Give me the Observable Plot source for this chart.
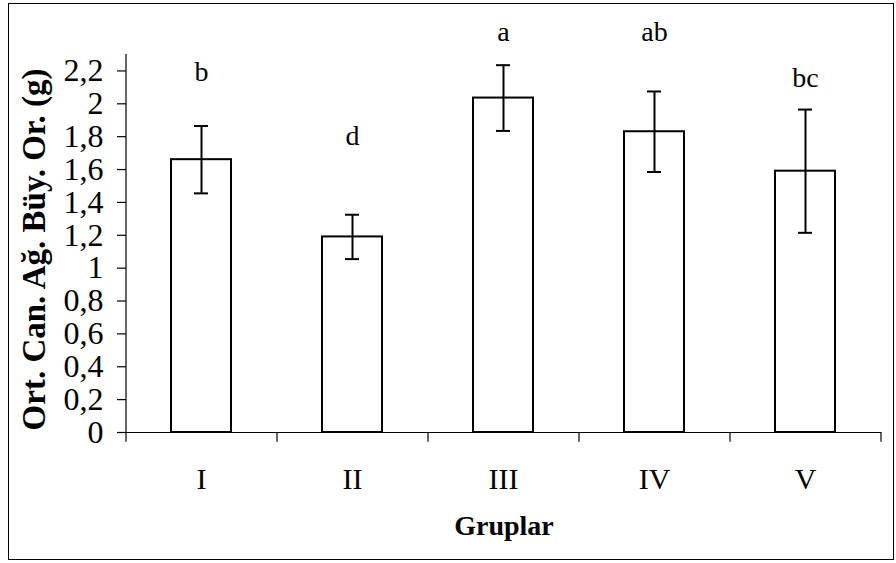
<!DOCTYPE html>
<html>
<head>
<meta charset="utf-8">
<script src="https://cdn.jsdelivr.net/npm/d3@7"></script>
<script src="https://cdn.jsdelivr.net/npm/@observablehq/plot@0.6"></script>
<style>
  html, body { margin: 0; padding: 0; background: #fff; }
  #wrap { position: relative; width: 896px; height: 563px; }
  #border { position: absolute; left: 8px; top: 3px; width: 884px; height: 555px; border: 1.5px solid #000; box-sizing: content-box; }
  #chart { position: absolute; left: 0; top: 0; }
</style>
</head>
<body>
<div id="wrap"><div id="border"></div><div id="chart"></div></div>
<script>
const groups = ["I", "II", "III", "IV", "V"];
const means = [1.66, 1.19, 2.035, 1.83, 1.59];
const errors = [0.205, 0.135, 0.20, 0.245, 0.375];
const letters = ["b", "d", "a", "ab", "bc"];
const letterY = [2.14, 1.75, 2.38, 2.38, 2.10];
const yTicks = [0, 0.2, 0.4, 0.6, 0.8, 1, 1.2, 1.4, 1.6, 1.8, 2, 2.2];

const data = groups.map((g, i) => ({group: g, mean: means[i], err: errors[i], letter: letters[i], ly: letterY[i]}));

const W = 896, H = 563, mL = 126, mR = 15, mT = 54, mB = 131;
const step = (W - mL - mR) / groups.length;
const font = "'Liberation Serif', 'Times New Roman', serif";
const fmt = d => String(+d.toFixed(1)).replace(".", ",");

const chart = Plot.plot({
  width: W,
  height: H,
  marginLeft: mL,
  marginRight: mR,
  marginTop: mT,
  marginBottom: mB,
  style: {fontFamily: font, fontSize: "28px", color: "#000", background: "transparent"},
  x: {domain: groups, paddingInner: 0.6, paddingOuter: 0.3, label: null},
  y: {domain: [0, 2.3], label: null},
  marks: [
    Plot.axisY({ticks: yTicks, tickFormat: fmt, tickSize: 9, tickPadding: 14, fontSize: 32, stroke: "#000", strokeWidth: 1.2, label: null}),
    Plot.axisX({tickSize: 0, tickPadding: 35, fontSize: 30, label: null}),
    Plot.barY(data, {x: "group", y: "mean", fill: "#fff", stroke: "#000", strokeWidth: 2}),
    Plot.ruleX(data, {x: "group", y1: d => d.mean - d.err, y2: d => d.mean + d.err, stroke: "#000", strokeWidth: 2}),
    Plot.tickY(data, {x: "group", y: d => d.mean + d.err, stroke: "#000", strokeWidth: 2, insetLeft: 23, insetRight: 23}),
    Plot.tickY(data, {x: "group", y: d => d.mean - d.err, stroke: "#000", strokeWidth: 2, insetLeft: 23, insetRight: 23}),
    Plot.ruleY([0], {stroke: "#000", strokeWidth: 1.2}),
    Plot.ruleX([groups[0]], {x: d => d, y1: 0, y2: 2.3, dx: -step / 2, stroke: "#000", strokeWidth: 1.2}),
    Plot.ruleX(groups, {x: d => d, y1: 0, y2: -0.06, dx: -step / 2, stroke: "#000", strokeWidth: 1.2}),
    Plot.ruleX([groups[groups.length - 1]], {x: d => d, y1: 0, y2: -0.06, dx: step / 2, stroke: "#000", strokeWidth: 1.2}),
    Plot.text(data, {x: "group", y: "ly", text: "letter", lineAnchor: "bottom", fontSize: 28, fill: "#000"}),
    Plot.text(["Gruplar"], {frameAnchor: "bottom", dy: 102, fontSize: 28, fontWeight: "bold", fill: "#000"}),
    Plot.text(["Ort. Can. Ağ. Büy. Or. (g)"], {frameAnchor: "left", textAnchor: "middle", rotate: -90, dx: -92, dy: 6, fontSize: 33, fontWeight: "bold", fill: "#000"})
  ]
});
document.getElementById("chart").appendChild(chart);
</script>
</body>
</html>
